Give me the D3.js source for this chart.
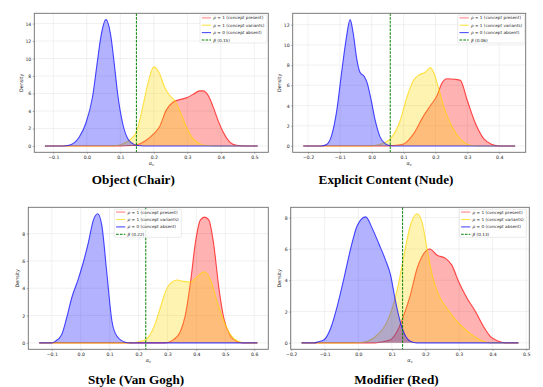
<!DOCTYPE html>
<html>
<head>
<meta charset="utf-8">
<script src="https://cdn.jsdelivr.net/npm/d3@7"></script>
<style>
  body { margin: 0; background: #fff; }
  svg { display: block; }
  text { font-family: "DejaVu Sans", sans-serif; fill: #222; }
  text.caption { font-family: "Liberation Serif", "Times New Roman", serif; font-weight: bold; fill: #000; }
</style>
</head>
<body>
<svg id="chart" width="543" height="387"></svg>
<script>
/* KDE curves, [alpha_c, density] */

const titles = ['Object (Chair)', 'Explicit Content (Nude)', 'Style (Van Gogh)', 'Modifier (Red)'];
const betas = [0.148, 0.058, 0.225, 0.132];
const betaLabels = ['0.15', '0.06', '0.22', '0.13'];
const legendLabels = ['concept present', 'concept variants', 'concept absent'];
const rhoValues = [1, 1, 0];

const chairPresent = [[-0.125, 0], [0.1, 0], [0.13, 0.05], [0.15, 0.15], [0.175, 0.6], [0.2, 1.4], [0.217, 2.2], [0.237, 4.1],
  [0.257, 5.0], [0.277, 5.3], [0.297, 5.5], [0.317, 5.9], [0.337, 6.3], [0.347, 6.3], [0.362, 5.8], [0.377, 4.5],
  [0.392, 2.9], [0.407, 1.6], [0.427, 0.45], [0.447, 0.08], [0.47, 0], [0.51, 0]];
const chairVariants = [[-0.125, 0], [0.07, 0], [0.1, 0.15], [0.125, 0.6], [0.148, 1.6], [0.167, 4.5], [0.182, 7.1],
  [0.2, 9.05], [0.217, 8.3], [0.232, 6.75], [0.247, 5.8], [0.262, 5.2], [0.277, 4.1], [0.297, 2.2], [0.317, 0.85],
  [0.337, 0.27], [0.357, 0.05], [0.38, 0], [0.51, 0]];
const chairAbsent = [[-0.125, 0], [-0.07, 0], [-0.053, 0.08], [-0.038, 0.35], [-0.023, 1.0], [-0.003, 2.6], [0.017, 5.6],
  [0.032, 9.8], [0.042, 12.5], [0.057, 14.45], [0.072, 12.5], [0.082, 9.4], [0.092, 6.0], [0.107, 2.6], [0.122, 0.85],
  [0.137, 0.27], [0.152, 0.05], [0.17, 0], [0.51, 0]];

const nudePresent = [[-0.215, 0], [0.05, 0], [0.07, 0.05], [0.1, 0.2], [0.131, 1.2], [0.163, 3.0], [0.184, 4.0], [0.205, 5.0],
  [0.22, 6.2], [0.236, 6.65], [0.262, 6.6], [0.278, 6.5], [0.3, 4.5], [0.326, 2.2], [0.352, 0.7], [0.378, 0.15], [0.4, 0], [0.45, 0]];
const nudeVariants = [[-0.215, 0], [0.0, 0], [0.016, 0.1], [0.037, 0.3], [0.058, 0.7], [0.089, 2.5], [0.11, 4.8], [0.131, 6.5],
  [0.147, 7.0], [0.168, 7.3], [0.184, 7.75], [0.194, 7.3], [0.21, 5.7], [0.226, 3.9], [0.252, 1.9], [0.278, 0.7],
  [0.31, 0.07], [0.33, 0], [0.45, 0]];
const nudeAbsent = [[-0.215, 0], [-0.16, 0], [-0.142, 0.15], [-0.126, 1.05], [-0.11, 3.5], [-0.095, 7.2], [-0.081, 10.45],
  [-0.068, 12.5], [-0.058, 11.1], [-0.047, 8.6], [-0.037, 7.3], [-0.024, 6.9], [-0.014, 6.2], [-0.003, 4.7], [0.011, 2.5],
  [0.026, 0.9], [0.042, 0.23], [0.058, 0.03], [0.075, 0], [0.45, 0]];

const vgPresent = [[-0.1435, 0], [0.29, 0], [0.305, 0.05], [0.322, 0.25], [0.345, 0.85], [0.362, 2.05], [0.38, 4.5],
  [0.397, 7.4], [0.414, 9.0], [0.428, 9.2], [0.443, 9.0], [0.46, 7.2], [0.478, 4.0], [0.495, 1.8], [0.518, 0.5],
  [0.54, 0.1], [0.56, 0], [0.611, 0]];
const vgVariants = [[-0.1435, 0], [0.18, 0], [0.2, 0.08], [0.226, 0.25], [0.252, 1.1], [0.275, 2.55], [0.293, 3.75],
  [0.31, 4.35], [0.333, 4.6], [0.356, 4.5], [0.38, 4.45], [0.403, 4.85], [0.428, 5.2], [0.449, 4.6], [0.472, 3.0],
  [0.495, 1.6], [0.518, 0.6], [0.54, 0.15], [0.56, 0.02], [0.58, 0], [0.611, 0]];
const vgAbsent = [[-0.1435, 0], [-0.1, 0], [-0.089, 0.1], [-0.066, 0.6], [-0.049, 1.8], [-0.031, 3.3], [-0.008, 4.7],
  [0.009, 5.9], [0.027, 7.4], [0.044, 9.0], [0.059, 9.45], [0.073, 8.6], [0.09, 5.2], [0.108, 1.6], [0.125, 0.5],
  [0.154, 0.05], [0.17, 0], [0.611, 0]];

const redPresent = [[-0.169, 0], [0.05, 0], [0.066, 0.05], [0.096, 0.2], [0.116, 0.75], [0.136, 1.8], [0.155, 3.05],
  [0.175, 4.75], [0.195, 5.7], [0.213, 6.0], [0.235, 5.6], [0.26, 5.4], [0.279, 4.95], [0.299, 3.9], [0.324, 2.85],
  [0.349, 2.0], [0.373, 1.05], [0.393, 0.42], [0.418, 0.1], [0.44, 0], [0.477, 0]];
const redVariants = [[-0.169, 0], [-0.01, 0], [0.027, 0.1], [0.056, 0.5], [0.081, 1.15], [0.101, 2.2], [0.121, 3.9],
  [0.136, 5.6], [0.155, 7.5], [0.175, 8.25], [0.19, 7.7], [0.205, 6.0], [0.22, 4.35], [0.24, 3.05], [0.264, 2.2],
  [0.289, 1.5], [0.314, 0.95], [0.344, 0.42], [0.373, 0.1], [0.395, 0], [0.477, 0]];
const redAbsent = [[-0.169, 0], [-0.13, 0], [-0.122, 0.05], [-0.102, 0.2], [-0.082, 0.95], [-0.062, 2.4], [-0.043, 4.1],
  [-0.023, 6.0], [-0.003, 7.5], [0.022, 8.05], [0.042, 7.3], [0.061, 6.35], [0.081, 5.3], [0.096, 4.35], [0.111, 2.65],
  [0.126, 1.27], [0.141, 0.42], [0.155, 0.1], [0.175, 0], [0.477, 0]];

const xTickSets = [
  [-0.1, 0, 0.1, 0.2, 0.3, 0.4, 0.5],
  [-0.2, -0.1, 0, 0.1, 0.2, 0.3, 0.4],
  [-0.1, 0, 0.1, 0.2, 0.3, 0.4, 0.5, 0.6],
  [-0.2, -0.1, 0, 0.1, 0.2, 0.3, 0.4, 0.5]
];
const yTickSets = [
  [0, 2, 4, 6, 8, 10, 12, 14],
  [0, 2, 4, 6, 8, 10, 12],
  [0, 2, 4, 6, 8],
  [0, 2, 4, 6, 8]
];

// layout: axes frame [left, top, right, bottom], legend top-left, caption anchor
const layout = [
  { box: [34.3, 13.3, 268.3, 152.3], legend: [200, 15], title: [133.3, 184], ylab: 22.7 },
  { box: [292.7, 13.3, 525.7, 152.3], legend: [457.7, 15], title: [386, 184], ylab: 281 },
  { box: [28.3, 207.3, 268.3, 349.3], legend: [114.3, 209.3], title: [136, 384.3], ylab: 19.3 },
  { box: [290.7, 207.3, 529.3, 349.3], legend: [459.3, 209.3], title: [396.5, 384.3], ylab: 281 }
];

const curves = [
  [chairPresent, chairVariants, chairAbsent],
  [nudePresent, nudeVariants, nudeAbsent],
  [vgPresent, vgVariants, vgAbsent],
  [redPresent, redVariants, redAbsent]
];

const colors = ['#ff0000', '#ffd700', '#0000ff'];
const svg = d3.select('#chart');
const fmtX = d => d3.format('.1f')(d).replace('-', '\u2212');

const drawPanel = (i) => {
  const [l, t, r, b] = layout[i].box;
  const series = curves[i];
  const all = [].concat(...series);
  const xExt = d3.extent(all, d => d[0]);
  const yMax = d3.max(all, d => d[1]);
  const xPad = (xExt[1] - xExt[0]) * 0.05;

  const x = d3.scaleLinear().domain([xExt[0] - xPad, xExt[1] + xPad]).range([l, r]);
  const y = d3.scaleLinear().domain([-yMax * 0.05, yMax * 1.05]).range([b, t]);

  const g = svg.append('g');

  // grid
  g.append('g').selectAll('line').data(xTickSets[i]).join('line')
    .attr('x1', d => x(d)).attr('x2', d => x(d)).attr('y1', t).attr('y2', b)
    .attr('stroke', '#e3e3e3').attr('stroke-width', 0.5);
  g.append('g').selectAll('line').data(yTickSets[i]).join('line')
    .attr('y1', d => y(d)).attr('y2', d => y(d)).attr('x1', l).attr('x2', r)
    .attr('stroke', '#e3e3e3').attr('stroke-width', 0.5);

  const area = d3.area().x(d => x(d[0])).y0(y(0)).y1(d => y(d[1])).curve(d3.curveMonotoneX);
  const line = d3.line().x(d => x(d[0])).y(d => y(d[1])).curve(d3.curveMonotoneX);

  series.forEach((s, k) => {
    g.append('path').datum(s).attr('d', area)
      .attr('fill', colors[k]).attr('fill-opacity', 0.3);
    g.append('path').datum(s).attr('d', line)
      .attr('fill', 'none').attr('stroke', colors[k]).attr('stroke-opacity', 0.7).attr('stroke-width', 1.1);
  });

  // threshold
  g.append('line')
    .attr('x1', x(betas[i])).attr('x2', x(betas[i])).attr('y1', t).attr('y2', b)
    .attr('stroke', '#008000').attr('stroke-width', 1).attr('stroke-dasharray', '2.6,1.2');

  // axes
  const ax = g.append('g').attr('transform', `translate(0,${b})`)
    .call(d3.axisBottom(x).tickValues(xTickSets[i]).tickFormat(fmtX).tickSize(1.5).tickPadding(1.5));
  const ay = g.append('g').attr('transform', `translate(${l},0)`)
    .call(d3.axisLeft(y).tickValues(yTickSets[i]).tickFormat(d3.format('d')).tickSize(1.5).tickPadding(1.5));
  [ax, ay].forEach(a => {
    a.select('.domain').remove();
    a.selectAll('.tick line').attr('stroke', '#555').attr('stroke-width', 0.5);
    a.selectAll('.tick text').attr('font-size', 4.6).attr('fill', '#222');
  });

  g.append('rect')
    .attr('x', l).attr('y', t).attr('width', r - l).attr('height', b - t)
    .attr('fill', 'none').attr('stroke', '#6e6e6e').attr('stroke-width', 0.9);

  // axis labels
  const xl = g.append('text')
    .attr('x', (l + r) / 2).attr('y', b + 12.5)
    .attr('text-anchor', 'middle').attr('font-size', 5);
  xl.append('tspan').attr('font-style', 'italic').text('\u03b1');
  xl.append('tspan').attr('font-size', 3.6).attr('dy', 1).attr('font-style', 'italic').text('c');

  g.append('text')
    .attr('transform', `translate(${layout[i].ylab},${(t + b) / 2}) rotate(-90)`)
    .attr('text-anchor', 'middle').attr('font-size', 4.8)
    .text('Density');

  // legend
  const [lx, ly] = layout[i].legend;
  const lg = g.append('g').attr('transform', `translate(${lx},${ly})`);
  lg.append('rect')
    .attr('width', 67).attr('height', 28).attr('rx', 1)
    .attr('fill', '#fff').attr('fill-opacity', 0.85)
    .attr('stroke', '#d6d6d6').attr('stroke-width', 0.5);

  const rowY = k => 2.8 + k * 7.4;
  legendLabels.forEach((lab, k) => {
    lg.append('line').attr('x1', 1.8).attr('x2', 11).attr('y1', rowY(k)).attr('y2', rowY(k))
      .attr('stroke', colors[k])
      .attr('stroke-opacity', k === 0 ? 0.3 : 0.7)
      .attr('stroke-width', k === 0 ? 1.8 : 1.1);
    const tx = lg.append('text').attr('x', 13.3).attr('y', rowY(k) + 1.5).attr('font-size', 4.2);
    tx.append('tspan').attr('font-style', 'italic').text('\u03c1');
    tx.append('tspan').text(` = ${rhoValues[k]} (${lab})`);
  });
  lg.append('line').attr('x1', 1.8).attr('x2', 11).attr('y1', rowY(3)).attr('y2', rowY(3))
    .attr('stroke', '#008000').attr('stroke-width', 1).attr('stroke-dasharray', '2.6,1.2');
  const bt = lg.append('text').attr('x', 13.3).attr('y', rowY(3) + 1.5).attr('font-size', 4.2);
  bt.append('tspan').attr('font-style', 'italic').text('\u03b2');
  bt.append('tspan').text(` (${betaLabels[i]})`);

  // caption
  svg.append('text')
    .attr('class', 'caption')
    .attr('x', layout[i].title[0]).attr('y', layout[i].title[1])
    .attr('text-anchor', 'middle')
    .attr('font-size', 13.2)
    .text(titles[i]);
};

d3.range(4).forEach(drawPanel);
</script>
</body>
</html>
